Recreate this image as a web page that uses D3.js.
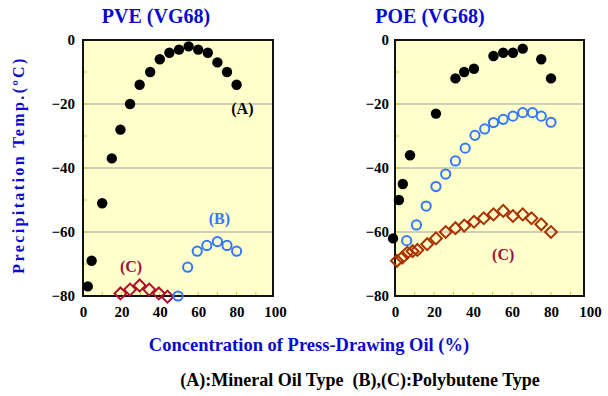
<!DOCTYPE html>
<html>
<head>
<meta charset="utf-8">
<script src="https://cdn.jsdelivr.net/npm/d3@7"></script>
<style>
  body { margin: 0; background: #fff; }
  svg text { font-family: "Liberation Serif", "Times New Roman", serif; font-weight: bold; }
</style>
</head>
<body>
<svg id="chart" width="608" height="396"></svg>
<script>
// tick values
var xTicks = [0, 20, 40, 60, 80, 100];
var yTicks = [0, -20, -40, -60, -80];
var minorTicks = [0, 10, 20, 30, 40, 50, 60, 70, 80, 90];
var yMinor = [0, -10, -20, -30, -40, -50, -60, -70, -80];

// PVE (VG68)
var pveAx = [2.5, 4.5, 10, 15, 19.5, 24.5, 29.5, 35, 40, 45, 50, 55, 60, 65, 70, 75, 80];
var pveAy = [-77, -69, -51, -37, -28, -20, -14, -10, -6, -4, -3, -2, -3, -4, -7, -10, -14];
var pveBx = [49.5, 54.5, 59.5, 64.5, 70, 75, 80];
var pveBy = [-80, -71, -66, -64.2, -63, -64.2, -66];
var pveCx = [19.5, 24.5, 29.5, 34.5, 39.5, 44];
var pveCy = [-79.2, -78, -76.7, -78, -79.2, -80.2];

// POE (VG68)
var poeAx = [-1, 2, 4, 7.7, 21, 31, 35.5, 40.5, 50.5, 55.5, 60.5, 65.5, 75, 80];
var poeAy = [-62, -50, -45, -36, -23, -12, -10, -9, -5, -4, -4, -2.7, -6, -12];
var poeBx = [6, 11, 16, 21, 26, 31, 36, 41, 46, 50.5, 55.5, 60.5, 65.5, 70.5, 75, 80];
var poeBy = [-62.7, -57.8, -51.9, -45.8, -41.9, -37.8, -33.8, -29.8, -27.8, -25.8, -24.8, -23.8, -22.7, -22.7, -23.8, -25.7];
var poeCx = [1, 3.7, 6.3, 9, 11.5, 16.5, 21, 26, 31, 35.5, 40.5, 45.5, 50.5, 55.5, 60.5, 65.5, 70, 75, 80];
var poeCy = [-69, -68, -66.5, -66, -65.6, -63.8, -62, -60, -58.8, -58, -56.8, -55.7, -54.5, -53.4, -55, -54.5, -55.7, -57.6, -60];

var svg = d3.select("#chart");

function zip(xs, ys) { return xs.map(function(x, i) { return [x, ys[i]]; }); }

function panel(opt) {
  var x = d3.scaleLinear().domain([0, 100]).range([opt.x0, opt.x100]);
  var y = d3.scaleLinear().domain([-80, 0]).range([296, 40]);
  var g = svg.append("g");

  g.append("rect")
    .attr("x", opt.x0).attr("y", 40)
    .attr("width", opt.right - opt.x0).attr("height", 256)
    .attr("fill", "#ffffcc");

  // grid
  g.selectAll(".grid").data([-20, -40, -60]).enter().append("line")
    .attr("x1", opt.x0).attr("x2", opt.right)
    .attr("y1", function(d) { return y(d); }).attr("y2", function(d) { return y(d); })
    .attr("stroke", "#a0a0a0").attr("stroke-width", 1);

  // yellow inner ticks
  g.selectAll(".ytk").data(yMinor).enter().append("line")
    .attr("x1", opt.x0).attr("x2", opt.x0 + 4)
    .attr("y1", function(d) { return y(d); }).attr("y2", function(d) { return y(d); })
    .attr("stroke", "#d4d400").attr("stroke-width", 1);
  g.selectAll(".xtk").data(minorTicks).enter().append("line")
    .attr("x1", function(d) { return x(d); }).attr("x2", function(d) { return x(d); })
    .attr("y1", 296).attr("y2", 292)
    .attr("stroke", "#d4d400").attr("stroke-width", 1);

  g.append("rect")
    .attr("x", opt.x0).attr("y", 40)
    .attr("width", opt.right - opt.x0).attr("height", 256)
    .attr("fill", "none").attr("stroke", "#111").attr("stroke-width", 2);

  // axes
  var ax = g.append("g").attr("transform", "translate(0,296)")
    .call(d3.axisBottom(x).tickValues(xTicks).tickSize(0).tickPadding(10));
  ax.select(".domain").remove();
  ax.selectAll("text").attr("font-size", 15).attr("fill", "#000")
    .style("font-family", "Liberation Serif").style("font-weight", "bold");

  var ay = g.append("g").attr("transform", "translate(" + opt.x0 + ",0)")
    .call(d3.axisLeft(y).tickValues(yTicks).tickSize(0).tickPadding(opt.pad));
  ay.select(".domain").remove();
  ay.selectAll("text").attr("font-size", 15).attr("fill", "#000")
    .style("font-family", "Liberation Serif").style("font-weight", "bold");

  // series C diamonds
  g.selectAll(".c").data(zip(opt.cx, opt.cy)).enter().append("rect")
    .attr("x", -4.2).attr("y", -4.2).attr("width", 8.4).attr("height", 8.4)
    .attr("transform", function(d) { return "translate(" + x(d[0]) + "," + y(d[1]) + ") rotate(45)"; })
    .attr("fill", "none").attr("stroke", opt.cColor).attr("stroke-width", 2);

  // series B open circles
  g.selectAll(".b").data(zip(opt.bx, opt.by)).enter().append("circle")
    .attr("cx", function(d) { return x(d[0]); }).attr("cy", function(d) { return y(d[1]); })
    .attr("r", 4.6).attr("fill", "none").attr("stroke", "#3377ff").attr("stroke-width", 2);

  // series A filled circles
  g.selectAll(".a").data(zip(opt.ax, opt.ay)).enter().append("circle")
    .attr("cx", function(d) { return x(d[0]); }).attr("cy", function(d) { return y(d[1]); })
    .attr("r", 5.2).attr("fill", "#000");

  // title sits left of the panel centre, as in the original
  g.append("text").attr("x", opt.titleX).attr("y", 23)
    .attr("text-anchor", "middle").attr("font-size", 20).attr("fill", "#0a0acc")
    .text(opt.title);

  return { x: x, y: y, g: g };
}

var p1 = panel({
  x0: 83, x100: 275, right: 273, pad: 8, title: "PVE (VG68)", titleX: 156,
  ax: pveAx, ay: pveAy, bx: pveBx, by: pveBy, cx: pveCx, cy: pveCy, cColor: "#b0102c"
});
var p2 = panel({
  x0: 395, x100: 590, right: 584, pad: 6, title: "POE (VG68)", titleX: 430,
  ax: poeAx, ay: poeAy, bx: poeBx, by: poeBy, cx: poeCx, cy: poeCy, cColor: "#a83200"
});

// series labels
function lab(p, xv, yv, txt, col) {
  p.g.append("text").attr("x", p.x(xv)).attr("y", p.y(yv))
    .attr("text-anchor", "middle").attr("dy", "0.35em")
    .attr("font-size", 16).attr("fill", col).text(txt);
}
lab(p1, 83, -21.5, "(A)", "#000");
lab(p1, 71, -55.8, "(B)", "#3377ff");
lab(p1, 25, -70.8, "(C)", "#a01040");
lab(p2, 55.5, -67, "(C)", "#a01040");

// axis titles
svg.append("text").attr("transform", "translate(24,165) rotate(-90)")
  .attr("text-anchor", "middle").attr("font-size", 16).attr("fill", "#0a0acc")
  .attr("letter-spacing", 2.4)
  .text("Precipitation Temp.(ºC)");

svg.append("text").attr("x", 309).attr("y", 351)
  .attr("text-anchor", "middle").attr("font-size", 18.5).attr("fill", "#0a0acc")
  .text("Concentration of Press-Drawing Oil (%)");

svg.append("text").attr("x", 360).attr("y", 386)
  .attr("text-anchor", "middle").attr("font-size", 18).attr("fill", "#000")
  .attr("xml:space", "preserve")
  .text("(A):Mineral Oil Type  (B),(C):Polybutene Type");
</script>
</body>
</html>
